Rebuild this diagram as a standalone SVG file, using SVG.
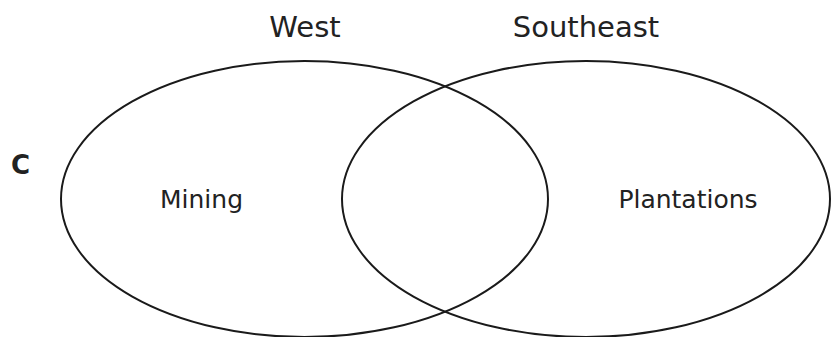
<svg xmlns="http://www.w3.org/2000/svg" width="833" height="337" viewBox="0 0 833 337">
<style>
.e{fill:none;stroke:#1a1a1a;stroke-width:2}
.t{font-family:"DejaVu Sans",Verdana,sans-serif;fill:#222;text-anchor:middle}
</style>
<rect width="833" height="337" fill="#fff"/>
<g id="left-set"><ellipse class="e" cx="304.5" cy="199" rx="243.5" ry="138"/></g>
<g id="right-set"><ellipse class="e" cx="586" cy="199" rx="244" ry="138"/></g>
<g id="labels">
<text class="t" x="305" y="37" font-size="29">West</text>
<text class="t" x="586" y="37" font-size="29">Southeast</text>
<text class="t" x="201.5" y="208" font-size="25">Mining</text>
<text class="t" x="688" y="208" font-size="25">Plantations</text>
<text x="11" y="174" font-family="DejaVu Sans,Verdana,sans-serif" font-weight="bold" font-size="26" fill="#222">C</text>
</g>
</svg>
